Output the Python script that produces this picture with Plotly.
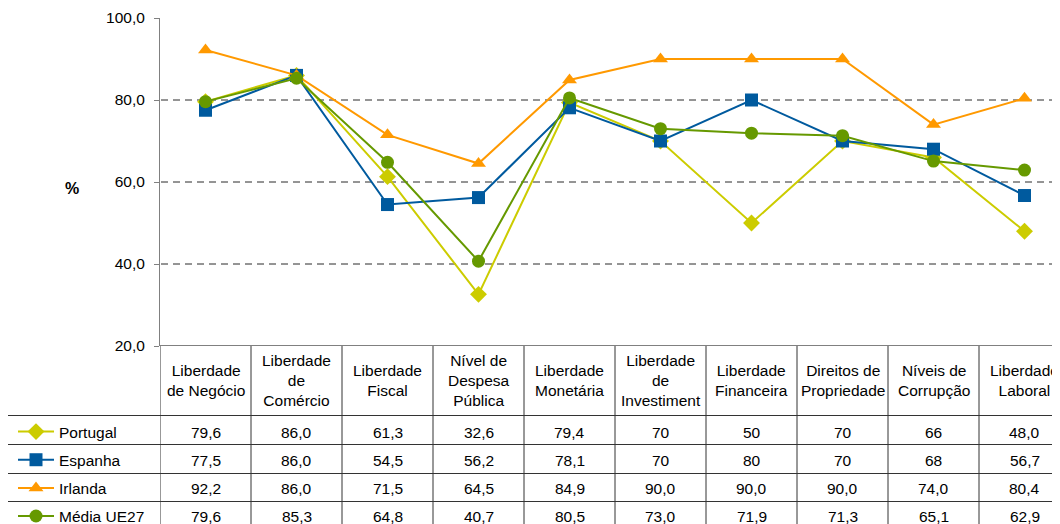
import plotly.graph_objects as go

categories = ["Liberdade<br>de Negócio", "Liberdade<br>de<br>Comércio", "Liberdade<br>Fiscal",
              "Nível de<br>Despesa<br>Pública", "Liberdade<br>Monetária", "Liberdade<br>de<br>Investiment",
              "Liberdade<br>Financeira", "Direitos de<br>Propriedade", "Níveis de<br>Corrupção",
              "Liberdade<br>Laboral"]

portugal = ["79,6", "86,0", "61,3", "32,6", "79,4", "70", "50", "70", "66", "48,0"]
espanha = ["77,5", "86,0", "54,5", "56,2", "78,1", "70", "80", "70", "68", "56,7"]
irlanda = ["92,2", "86,0", "71,5", "64,5", "84,9", "90,0", "90,0", "90,0", "74,0", "80,4"]
media_ue27 = ["79,6", "85,3", "64,8", "40,7", "80,5", "73,0", "71,9", "71,3", "65,1", "62,9"]

series_names = ["Portugal", "Espanha", "Irlanda", "Média UE27"]
series_labels = [portugal, espanha, irlanda, media_ue27]
series_colors = ["#CCCC00", "#005A9E", "#FF9900", "#669900"]
series_symbols = ["diamond", "square", "triangle-up", "circle"]
y_ticks = [20, 40, 60, 80, 100]
grid_ticks = [40, 60, 80]

W, H = 1060, 524
OFF = 8          # page body margin offset
MT = 18 - OFF
PH = H - MT
COLW = 91


def py(p):
    return (H - (p - OFF)) / PH


def px(p):
    return (p - OFF) / W


FONT = "Liberation Sans, Arial, sans-serif"
x_idx = list(range(len(categories)))
fig = go.Figure()
for name, labels, color, sym in zip(series_names, series_labels, series_colors, series_symbols):
    vals = [float(s.replace(",", ".")) for s in labels]
    fig.add_trace(go.Scatter(
        x=x_idx, y=vals, name=name, mode="lines+markers",
        line=dict(color=color, width=2),
        marker=dict(symbol=sym, size=13, color=color),
        legendgroup=name,
    ))

shapes = []
for g in grid_ticks:
    shapes.append(dict(type="line", xref="paper", yref="y", x0=px(161), x1=1, y0=g, y1=g,
                       line=dict(color="#2a2a2a", width=1, dash="7px,5px"), layer="below"))

line_col = "#333333"
for i in range(len(categories) + 1):
    shapes.append(dict(type="line", xref="x", yref="paper", x0=i - 0.5, x1=i - 0.5,
                       y0=py(346), y1=py(530), line=dict(color=line_col, width=1)))
shapes.append(dict(type="line", xref="paper", yref="paper", x0=px(7.5), x1=px(7.5),
                   y0=py(415.5), y1=py(530), line=dict(color=line_col, width=1)))
for rp in [415.5, 444.5, 473.5, 501.5]:
    shapes.append(dict(type="line", xref="paper", yref="paper", x0=px(7.5), x1=1,
                       y0=py(rp), y1=py(rp), line=dict(color=line_col, width=1)))
shapes.append(dict(type="line", xref="paper", yref="y", x0=px(160), x1=1, y0=20, y1=20,
                   line=dict(color="#000000", width=1)))

annotations = []
font = dict(family=FONT, size=15.5, color="#000000")
for i, c in enumerate(categories):
    annotations.append(dict(x=i, y=py(381), xref="x", yref="paper", text=c, showarrow=False,
                            font=font, xanchor="center", yanchor="middle", align="center"))
row_centers = [432, 460, 488, 516]
for labels, rc in zip(series_labels, row_centers):
    for i, s in enumerate(labels):
        annotations.append(dict(x=i, y=py(rc), xref="x", yref="paper", text=s, showarrow=False,
                                font=font, xanchor="center", yanchor="middle"))
annotations.append(dict(x=px(72), y=py(188), xref="paper", yref="paper", text="<b>%</b>",
                        showarrow=False, font=dict(family=FONT, size=16, color="#000"),
                        xanchor="center", yanchor="middle"))

fig.update_layout(
    width=W, height=H,
    margin=dict(l=0, r=0, t=MT, b=0, autoexpand=False),
    paper_bgcolor="white", plot_bgcolor="white",
    separators=",.",
    showlegend=True,
    legend=dict(x=px(13), y=py(415), xanchor="left", yanchor="top", orientation="v",
                font=dict(family=FONT, size=15.5, color="#000"), itemwidth=36,
                tracegroupgap=5, bgcolor="rgba(0,0,0,0)", itemclick=False),
    xaxis=dict(domain=[px(160), 1], range=[-0.5, (W + OFF - 160) / COLW - 0.5], showticklabels=False,
               showgrid=False, zeroline=False, showline=False, ticks=""),
    yaxis=dict(domain=[py(346), 1], range=[20, 100], tickvals=y_ticks, tickformat=".1f",
               showgrid=False, zeroline=False, showline=True, linecolor="#808080", linewidth=1,
               ticks="outside", ticklen=5, tickcolor="#808080", ticklabelstandoff=6,
               tickfont=dict(family=FONT, size=15.5, color="#000")),
    shapes=shapes,
    annotations=annotations,
)

fig.write_html("out.html")
